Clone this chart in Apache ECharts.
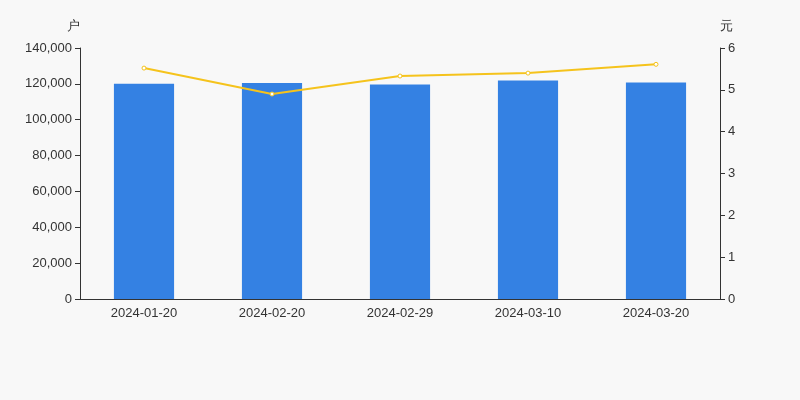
<!DOCTYPE html>
<html>
<head>
<meta charset="utf-8">
<script src="https://cdn.jsdelivr.net/npm/echarts@6/dist/echarts.min.js"></script>
<style>html,body{margin:0;background:#f8f8f8}#main{width:800px;height:400px}</style>
</head>
<body>
<div id="main"></div>
<script>
var categories = ['2024-01-20', '2024-02-20', '2024-02-29', '2024-03-10', '2024-03-20'];
var holders = [120000, 120500, 119700, 121900, 120800];
var avgPrice = [5.52, 4.90, 5.33, 5.40, 5.61];

var chart = echarts.init(document.getElementById('main'));
var axisText = { color: '#333', fontSize: 13, fontFamily: 'sans-serif' };
chart.setOption({
    backgroundColor: '#f8f8f8',
    grid: { left: 80, right: 80, top: 48, bottom: 101 },
    xAxis: {
        type: 'category',
        data: categories,
        axisLine: { lineStyle: { color: '#333' } },
        axisTick: { alignWithLabel: false },
        axisLabel: axisText
    },
    yAxis: [
        {
            type: 'value', name: '户', min: 0, max: 140000, interval: 20000,
            nameTextStyle: { color: '#333', fontSize: 13, align: 'right' },
            axisLine: { show: true, lineStyle: { color: '#333' } },
            axisTick: { show: true },
            splitLine: { show: false },
            axisLabel: axisText
        },
        {
            type: 'value', name: '元', min: 0, max: 6, interval: 1,
            nameTextStyle: { color: '#333', fontSize: 13, align: 'left' },
            axisLine: { show: true, lineStyle: { color: '#333' } },
            axisTick: { show: true },
            splitLine: { show: false },
            axisLabel: axisText
        }
    ],
    series: [
        {
            type: 'bar', data: holders, barWidth: '47%',
            itemStyle: { color: '#3481e3' }
        },
        {
            type: 'line', yAxisIndex: 1, data: avgPrice,
            symbol: 'circle', symbolSize: 4,
            lineStyle: { color: '#f5c31c', width: 2 },
            itemStyle: { color: '#fff', borderColor: '#f5c31c', borderWidth: 1 }
        }
    ]
});
</script>
</body>
</html>
